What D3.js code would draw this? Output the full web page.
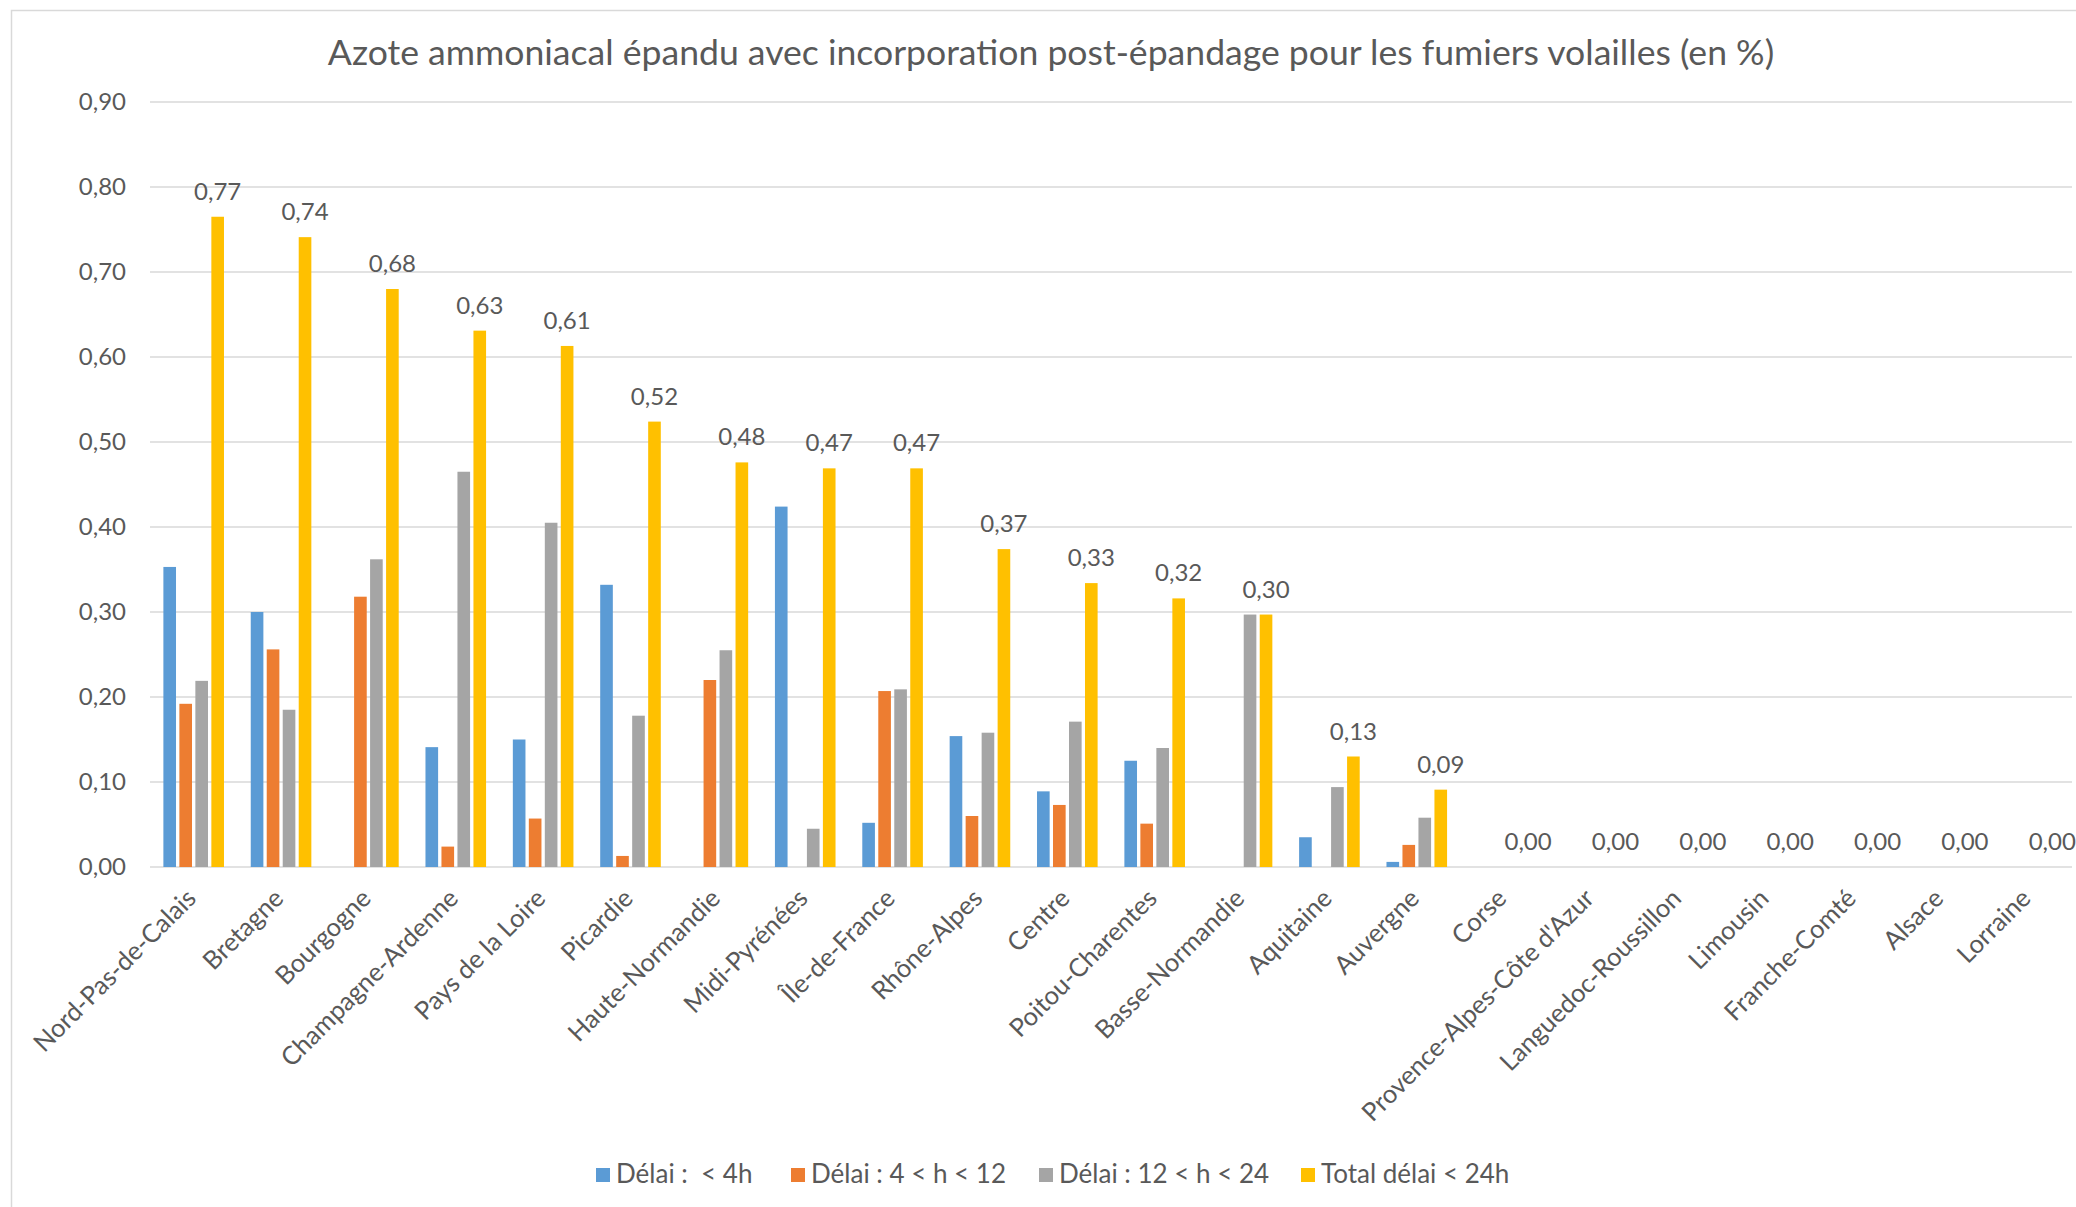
<!DOCTYPE html>
<html>
<head>
<meta charset="utf-8">
<script src="https://cdn.jsdelivr.net/npm/d3@7"></script>
<style>
  body { margin: 0; background: #fff; }
  text { font-family: Lato, "Open Sans", sans-serif; fill: #595959; white-space: pre; }
</style>
</head>
<body>
<div id="chart"></div>
<script>
    // categories and series
    var regions = ["Nord-Pas-de-Calais", "Bretagne", "Bourgogne", "Champagne-Ardenne", "Pays de la Loire",
        "Picardie", "Haute-Normandie", "Midi-Pyrénées", "Île-de-France", "Rhône-Alpes", "Centre",
        "Poitou-Charentes", "Basse-Normandie", "Aquitaine", "Auvergne", "Corse",
        "Provence-Alpes-Côte d'Azur", "Languedoc-Roussillon", "Limousin", "Franche-Comté", "Alsace", "Lorraine"];

    var seriesNames = ["Délai :  < 4h", "Délai : 4 < h < 12", "Délai : 12 < h < 24", "Total délai < 24h"];

    var under4h = [0.353, 0.300, 0, 0.141, 0.150, 0.332, 0, 0.424, 0.052, 0.154, 0.089, 0.125, 0, 0.035, 0.006, 0, 0, 0, 0, 0, 0, 0];
    var from4to12 = [0.192, 0.256, 0.318, 0.024, 0.057, 0.013, 0.220, 0, 0.207, 0.060, 0.073, 0.051, 0, 0, 0.026, 0, 0, 0, 0, 0, 0, 0];
    var from12to24 = [0.219, 0.185, 0.362, 0.465, 0.405, 0.178, 0.255, 0.045, 0.209, 0.158, 0.171, 0.140, 0.297, 0.094, 0.058, 0, 0, 0, 0, 0, 0, 0];
    var total24 = [0.765, 0.741, 0.680, 0.631, 0.613, 0.524, 0.476, 0.469, 0.469, 0.374, 0.334, 0.316, 0.297, 0.130, 0.091, 0, 0, 0, 0, 0, 0, 0];

    var yTicks = [0, 0.1, 0.2, 0.3, 0.4, 0.5, 0.6, 0.7, 0.8, 0.9];

    var colors = ["#5B9BD5", "#ED7D31", "#A5A5A5", "#FFC000"];
    var seriesValues = [under4h, from4to12, from12to24, total24];

    var svgWidth = 2076;
    var svgHeight = 1207;

    var svg = d3.select("#chart")
        .append("svg")
        .attr("width", svgWidth)
        .attr("height", svgHeight);

    // chart frame
    svg.append("rect")
        .attr("x", 11.5).attr("y", 10.5)
        .attr("width", 2100).attr("height", 1250)
        .attr("fill", "none")
        .attr("stroke", "#D9D9D9")
        .attr("stroke-width", 1.5);

    var xScale = d3.scaleBand()
        .domain(regions)
        .range([150, 2072]);

    var xInner = d3.scaleBand()
        .domain(seriesNames)
        .range([0, 60.6])
        .paddingInner(0.21);

    var yScale = d3.scaleLinear()
        .domain([0, 0.9])
        .range([867, 102]);

    var fmt = function (v) { return d3.format(".2f")(v).replace(".", ","); };

    // gridlines
    svg.append("g")
        .selectAll("line")
        .data(yTicks)
        .enter()
        .append("line")
        .attr("x1", 150)
        .attr("x2", 2072)
        .attr("y1", d => yScale(d))
        .attr("y2", d => yScale(d))
        .attr("stroke", "#D9D9D9")
        .attr("stroke-width", 1.6);

    // y axis
    var yAxis = d3.axisLeft(yScale).tickValues(yTicks).tickFormat(fmt).tickSize(0).tickPadding(0);
    var yG = svg.append("g").attr("transform", "translate(126,0)").call(yAxis);
    yG.select(".domain").remove();
    yG.selectAll("text").attr("font-size", "24px").style("font-family", "Lato, sans-serif").attr("fill", "#595959");

    // bars
    var table = [];
    regions.forEach(function (r, i) {
        seriesNames.forEach(function (s, j) {
            table.push({ region: r, series: s, k: j, value: seriesValues[j][i] });
        });
    });

    var groupW = 60.6;
    svg.append("g")
        .selectAll("rect")
        .data(table.filter(d => d.value > 0))
        .enter()
        .append("rect")
        .attr("x", d => xScale(d.region) + (xScale.bandwidth() - groupW) / 2 + xInner(d.series))
        .attr("width", xInner.bandwidth())
        .attr("y", d => yScale(d.value))
        .attr("height", d => yScale(0) - yScale(d.value))
        .attr("fill", d => colors[d.k]);

    // data labels on total series
    svg.append("g")
        .selectAll("text")
        .data(regions)
        .enter()
        .append("text")
        .attr("x", (d, i) => xScale(d) + (xScale.bandwidth() - groupW) / 2 + xInner(seriesNames[3]) + xInner.bandwidth() / 2)
        .attr("y", (d, i) => yScale(total24[i]) - 17)
        .attr("text-anchor", "middle")
        .attr("font-size", "24px")
        .text((d, i) => fmt(total24[i]));

    // x axis labels
    var xAxis = d3.axisBottom(xScale).tickSize(0).tickPadding(0);
    var xG = svg.append("g").attr("transform", "translate(0,867)").call(xAxis);
    xG.select(".domain").remove();
    xG.selectAll("text")
        .attr("font-size", "25.5px")
        .style("font-family", "Lato, sans-serif")
        .attr("fill", "#595959")
        .attr("text-anchor", "end")
        .attr("dy", "0")
        .attr("y", 0)
        .attr("transform", "translate(4,33) rotate(-45)");

    // title
    svg.append("text")
        .attr("x", 1051)
        .attr("y", 65)
        .attr("text-anchor", "middle")
        .attr("font-size", "35.6px")
        .text("Azote ammoniacal épandu avec incorporation post-épandage pour les fumiers volailles (en %)");

    // legend
    var legendX = [596, 791, 1039, 1301];
    var legend = svg.append("g")
        .selectAll("g")
        .data(seriesNames)
        .enter()
        .append("g")
        .attr("transform", (d, i) => `translate(${legendX[i]}, 1175)`);

    legend.append("rect")
        .attr("x", 0).attr("y", -7)
        .attr("width", 14).attr("height", 14)
        .attr("fill", (d, i) => colors[i]);

    legend.append("text")
        .attr("x", 20)
        .attr("y", 8)
        .attr("font-size", "26px")
        .text(d => d);
</script>
</body>
</html>
